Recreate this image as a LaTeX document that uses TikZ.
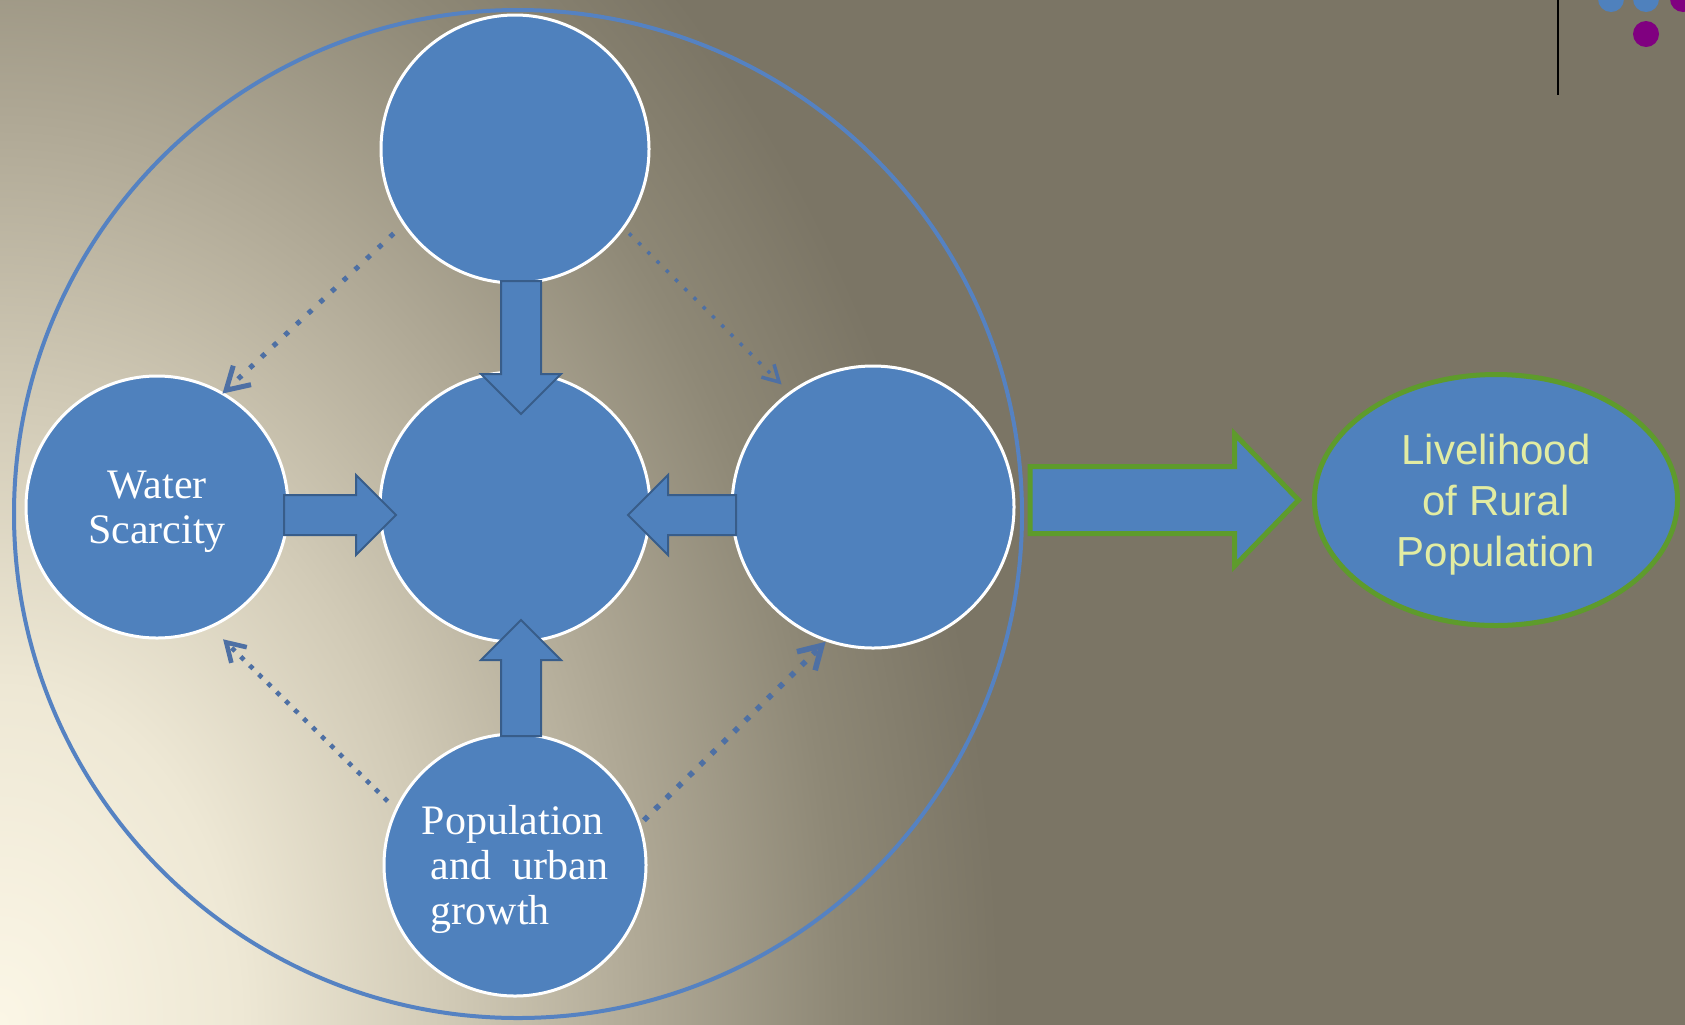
\documentclass[tikz,border=0pt]{standalone}
\usepackage{fontspec}
\setmainfont{Liberation Serif}
\newfontfamily\labelsans{Liberation Sans}
\usetikzlibrary{arrows.meta,positioning,calc,shapes.geometric}
\definecolor{bgcream}{HTML}{FBF6E6}
\definecolor{bglight}{HTML}{EEE8D5}
\definecolor{bgmid}{HTML}{D2CBB7}
\definecolor{bgtan}{HTML}{B0A996}
\definecolor{bgdusk}{HTML}{8E8876}
\definecolor{bgdark}{HTML}{7B7565}
\definecolor{circfill}{HTML}{4F81BD}
\definecolor{arrowedge}{HTML}{385D8A}
\definecolor{ringblue}{HTML}{5582C2}
\definecolor{leafgreen}{HTML}{5E9B2C}
\definecolor{paleyellow}{HTML}{E2ECA2}
\definecolor{dotblue}{HTML}{4E70A4}
\definecolor{markpurple}{HTML}{800080}
\pgfdeclareradialshading{bgglow}{\pgfpoint{0bp}{0bp}}{color(0bp)=(bgcream); color(6bp)=(bglight); color(11bp)=(bgmid); color(16bp)=(bgtan); color(21bp)=(bgdusk); color(25bp)=(bgdark); color(50bp)=(bgdark)}
\tikzset{role/.style={circle,draw=white,line width=1.5pt,fill=circfill,inner sep=0pt,outer sep=0pt,align=center,text=white,font=\fontsize{21pt}{22.5pt}\selectfont},ring/.style={circle,draw=ringblue,line width=2pt,minimum size=504pt,inner sep=0pt,outer sep=0pt},outcome/.style={ellipse,draw=leafgreen,line width=2.5pt,fill=circfill,minimum width=181.5pt,minimum height=125.5pt,inner sep=0pt,outer sep=0pt,align=center,text=paleyellow,font=\labelsans\fontsize{21pt}{25.5pt}\selectfont},arrowshape/.style n args={3}{to path={let \p1=($(\tikztotarget)!#3!(\tikztostart)$) in ($(\tikztostart)!#1!90:(\tikztotarget)$) -- ($(\p1)!#1!-90:(\tikztostart)$) -- ($(\p1)!#2!-90:(\tikztostart)$) -- (\tikztotarget) -- ($(\p1)!#2!90:(\tikztostart)$) -- ($(\p1)!#1!90:(\tikztostart)$) -- ($(\tikztostart)!#1!-90:(\tikztotarget)$) -- cycle}},blockarrow/.style={draw=arrowedge,fill=circfill,line width=1pt,line join=miter,arrowshape={10pt}{20pt}{20pt}},bigarrow/.style={draw=leafgreen,fill=circfill,line width=2.5pt,line join=miter,arrowshape={16.75pt}{33pt}{32pt}},dotarrow/.style={draw=dotblue,line width=2.5pt,dash pattern=on 2.5pt off 5.5pt,-{Straight Barb[length=11pt,width=13pt]}}}

\begin{document}
\begin{tikzpicture}[x=0.5pt,y=-0.5pt]
\useasboundingbox (0,0) rectangle (1685,1024);
\fill[bgdark] (-20,-20) rectangle (1705,1044);
\begin{scope}
\clip (-20,-20) rectangle (1705,1044);
\shade[shading=bgglow] (0,1024) ellipse [x radius=500pt,y radius=700pt];
\end{scope}
% marks in the upper right corner
\draw[black,line width=1pt] (1558,-5) -- (1558,95);
\fill[circfill] (1611,-1) circle (6.5pt) (1646,-1) circle (6.5pt);
\fill[markpurple] (1683,-1) circle (6.5pt) (1646,34) circle (6.5pt);
\node[ring] (ring) at (518,514) {};
\node[role,minimum size=135pt] (core) at (515,507) {};
\node[role,minimum size=134pt,above=44.5pt of core] (toprole) {};
\node[role,minimum size=131pt,left=46pt of core] (water) {\rule{0pt}{19pt}Water\\Scarcity};
\node[role,minimum size=141pt,right=41pt of core] (rightrole) {};
\node[role,minimum size=131pt,below=46pt of core,align=left] (growth) {\rule{0pt}{19pt}Population\\\hspace*{4.5pt}and~~urban\\\hspace*{4.5pt}growth};
\node[outcome] (livelihood) at (1496,500) {\rule{0pt}{20pt}Livelihood\\of Rural\\Population};
% block arrows into the core
\coordinate (toptail) at ([xshift=3pt,yshift=1pt]toprole.south);
\coordinate (toptip) at ([xshift=3pt,yshift=-21pt]core.north);
\coordinate (lefttail) at ([xshift=-2pt,yshift=-4pt]water.east);
\coordinate (lefttip) at ([xshift=8pt,yshift=-4pt]core.west);
\coordinate (righttail) at ([xshift=2pt,yshift=-4pt]rightrole.west);
\coordinate (righttip) at ([xshift=-11pt,yshift=-4pt]core.east);
\coordinate (bottail) at ([xshift=3pt,yshift=-1pt]growth.north);
\coordinate (bottip) at ([xshift=3pt,yshift=11pt]core.south);
\draw[blockarrow] (toptail) to (toptip);
\draw[blockarrow] (lefttail) to (lefttip);
\draw[blockarrow] (righttail) to (righttip);
\draw[blockarrow] (bottail) to (bottip);
% dotted links
\draw[dotarrow,shorten <=7pt] (toprole.214) -- (water.60);
\draw[dotarrow,line width=1.75pt,dash pattern=on 1.75pt off 4.75pt,shorten <=4pt,shorten >=6pt,-{Straight Barb[length=8pt,width=9pt]}] (toprole.-36) -- (rightrole.126);
\draw[dotarrow,line width=2.3pt,dash pattern=on 2.3pt off 4pt,shorten <=6pt,shorten >=9pt,-{Straight Barb[length=9pt,width=11pt]}] (growth.155) -- (water.-66);
\draw[dotarrow,line width=2.8pt,dash pattern=on 2.8pt off 5.1pt,shorten <=3pt,shorten >=1pt] (growth.18) -- (rightrole.251);
% outcome arrow
\coordinate (bigtail) at ($(ring.east |- livelihood.west)+(4pt,0)$);
\coordinate (bigtip) at ([xshift=-8pt]livelihood.west);
\draw[bigarrow] (bigtail) to (bigtip);
\end{tikzpicture}
\end{document}
